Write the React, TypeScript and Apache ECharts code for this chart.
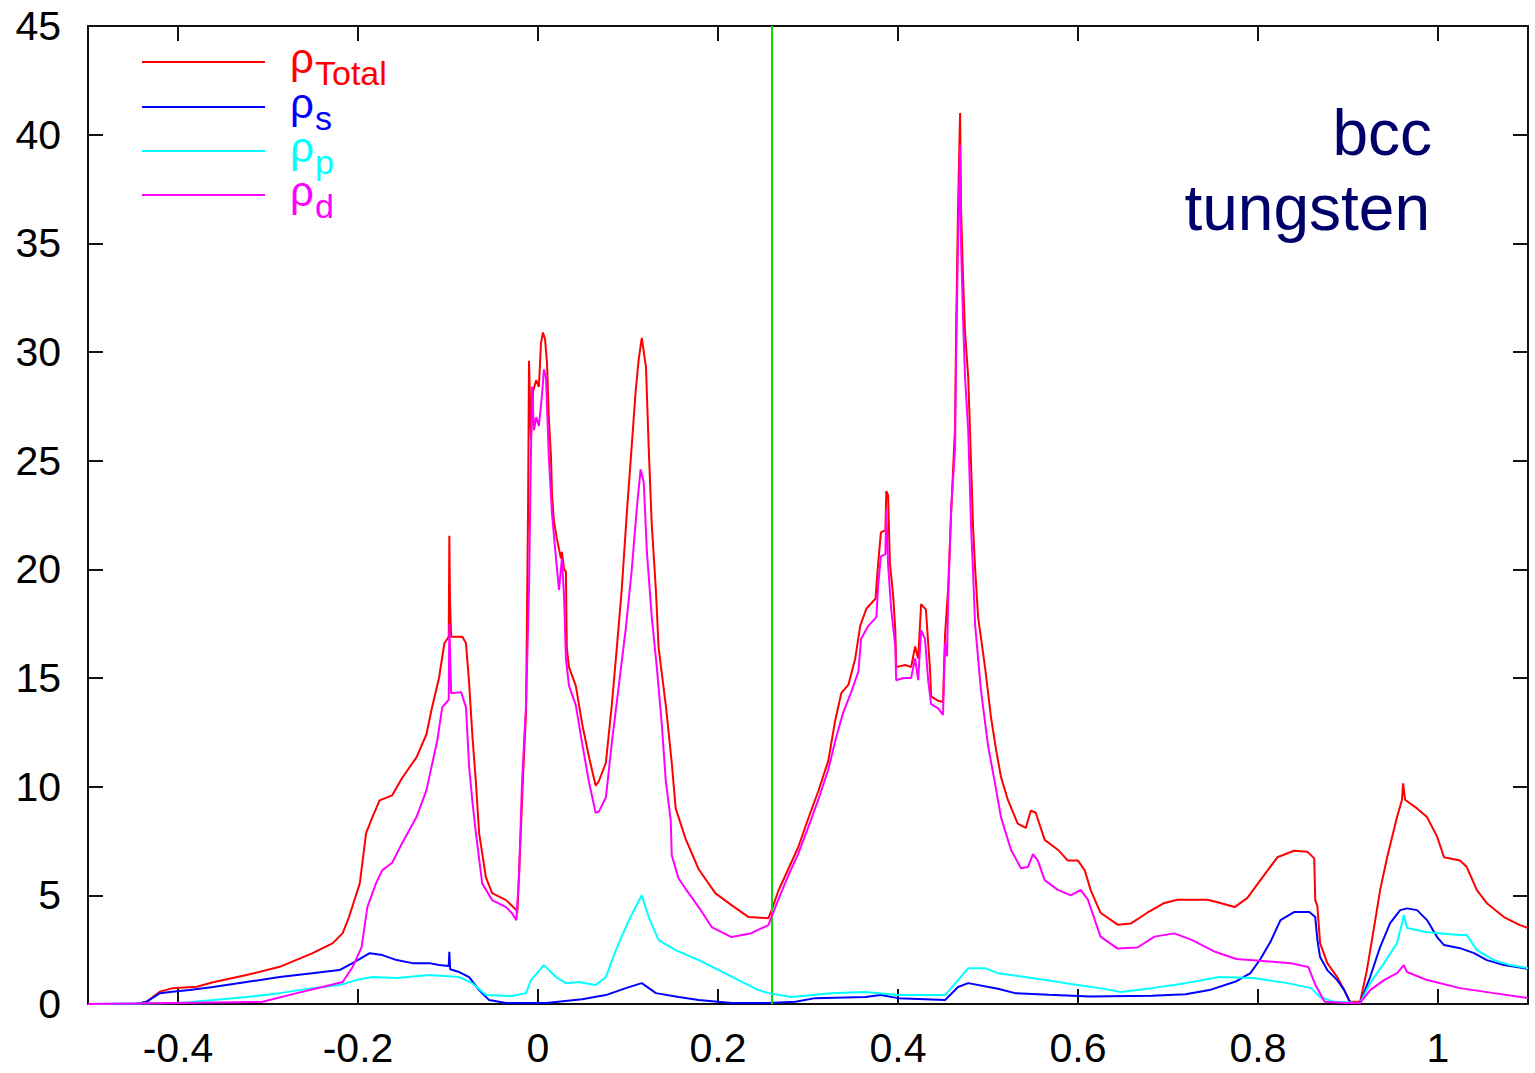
import React, { useEffect, useRef } from "react";
import * as echarts from "echarts";

// ---- axis ticks ----
const xTicks = [-0.4, -0.2, 0, 0.2, 0.4, 0.6, 0.8, 1];
const xTickLabels = ["-0.4", "-0.2", "0", "0.2", "0.4", "0.6", "0.8", "1"];
const yTicks = [0, 5, 10, 15, 20, 25, 30, 35, 40, 45];
const fermiLevel = 0.256;

// ---- series names ----
const seriesNames = ["ρTotal", "ρs", "ρp", "ρd"];
const subscripts = ["Total", "s", "p", "d"];
const seriesColors = ["#ff0000", "#0000ff", "#00ffff", "#ff00ff"];
const annotation = ["bcc", "tungsten"];

// ---- data (energy, density) ----
const rhoTotal: [number, number][] = [
  [-0.5, 0], [-0.446, 0], [-0.435, 0.1], [-0.42, 0.57], [-0.406, 0.73], [-0.379, 0.79],
  [-0.361, 1.0], [-0.324, 1.33], [-0.287, 1.71], [-0.251, 2.33], [-0.228, 2.8], [-0.217, 3.26],
  [-0.21, 4.0], [-0.198, 5.55], [-0.191, 7.86], [-0.184, 8.6], [-0.176, 9.37], [-0.162, 9.6],
  [-0.151, 10.4], [-0.135, 11.35], [-0.124, 12.4], [-0.118, 13.6], [-0.11, 15.0], [-0.104, 16.6],
  [-0.0992, 16.9], [-0.0985, 21.55], [-0.0978, 18.6], [-0.0965, 16.9], [-0.084, 16.9], [-0.08, 16.6],
  [-0.0765, 14.75], [-0.073, 12.4], [-0.069, 10.2], [-0.0654, 7.86], [-0.058, 5.85], [-0.051, 5.1],
  [-0.0355, 4.78], [-0.024, 4.32], [-0.023, 4.18], [-0.021, 6.0], [-0.0166, 10.5], [-0.0133, 13.4],
  [-0.011, 23.0], [-0.01, 29.6], [-0.0078, 26.0], [-0.0055, 28.2], [-0.002, 28.7], [0.001, 28.4],
  [0.0033, 30.4], [0.0055, 30.9], [0.0078, 30.6], [0.01, 29.5], [0.012, 27.0], [0.0144, 25.2],
  [0.0155, 23.5], [0.0177, 22.2], [0.021, 21.4], [0.0255, 20.5], [0.0266, 20.8], [0.029, 20.0],
  [0.031, 19.9], [0.032, 16.4], [0.0344, 15.5], [0.042, 14.65], [0.049, 12.9], [0.0565, 11.4],
  [0.064, 10.05], [0.0676, 10.25], [0.0754, 11.1], [0.082, 13.75], [0.0876, 16.4], [0.093, 19.05],
  [0.0987, 22.6], [0.104, 25.6], [0.1086, 28.25], [0.112, 29.7], [0.1153, 30.65], [0.12, 29.3],
  [0.123, 25.6], [0.1264, 22.05], [0.131, 19.05], [0.134, 16.4], [0.142, 13.75], [0.1486, 11.1],
  [0.153, 9.0], [0.164, 7.6], [0.1785, 6.2], [0.197, 5.1], [0.215, 4.55], [0.234, 4.0],
  [0.256, 3.95], [0.2594, 4.3], [0.267, 5.2], [0.278, 6.2], [0.289, 7.2], [0.3, 8.5],
  [0.3115, 9.8], [0.3226, 11.2], [0.33, 13.0], [0.337, 14.3], [0.345, 14.7], [0.3525, 15.9],
  [0.358, 17.4], [0.365, 18.2], [0.375, 18.65], [0.378, 20.3], [0.381, 21.7], [0.386, 21.8],
  [0.387, 23.6], [0.389, 23.4], [0.391, 20.3], [0.3947, 18.75], [0.397, 17.2], [0.398, 15.5],
  [0.408, 15.6], [0.4146, 15.5], [0.419, 16.45], [0.4224, 15.9], [0.4257, 18.4], [0.431, 18.15],
  [0.4357, 15.3], [0.4368, 14.15], [0.4446, 13.95], [0.45, 13.9], [0.4523, 17.0], [0.4557, 19.1],
  [0.459, 22.55], [0.4634, 26.55], [0.4645, 30.7], [0.4667, 36.65], [0.469, 41.0], [0.47, 36.65],
  [0.4723, 33.4], [0.4745, 30.9], [0.478, 28.85], [0.48, 26.4], [0.4834, 21.95], [0.4856, 20.1],
  [0.489, 17.8], [0.4967, 15.5], [0.5033, 13.2], [0.509, 11.7], [0.5144, 10.45], [0.522, 9.4],
  [0.533, 8.3], [0.542, 8.1], [0.5477, 8.9], [0.553, 8.8], [0.563, 7.55], [0.5776, 7.1],
  [0.5887, 6.6], [0.6, 6.6], [0.6075, 6.15], [0.614, 5.25], [0.625, 4.2], [0.644, 3.65],
  [0.6585, 3.7], [0.677, 4.2], [0.696, 4.65], [0.7106, 4.8], [0.744, 4.8], [0.758, 4.65],
  [0.774, 4.46], [0.788, 4.87], [0.8027, 5.7], [0.8215, 6.75], [0.84, 7.05], [0.855, 7.0],
  [0.8625, 6.7], [0.8636, 4.78], [0.866, 4.5], [0.869, 2.8], [0.877, 1.88], [0.888, 1.24],
  [0.8958, 0.64], [0.9024, 0.1], [0.9135, 0.1], [0.921, 1.56], [0.929, 3.54], [0.9357, 5.24],
  [0.9435, 6.75], [0.9545, 8.6], [0.96, 9.4], [0.9612, 10.15], [0.9634, 9.4], [0.9767, 9.0],
  [0.9878, 8.6], [0.999, 7.7], [1.0067, 6.75], [1.0244, 6.6], [1.032, 6.3], [1.0432, 5.24],
  [1.0543, 4.64], [1.0732, 4.0], [1.091, 3.63], [1.1, 3.5],
];

const rhoS: [number, number][] = [
  [-0.5, 0], [-0.446, 0], [-0.435, 0.1], [-0.42, 0.5], [-0.409, 0.55], [-0.387, 0.64],
  [-0.361, 0.78], [-0.324, 1.01], [-0.287, 1.24], [-0.251, 1.42], [-0.2206, 1.56], [-0.206, 1.88],
  [-0.187, 2.34], [-0.173, 2.25], [-0.157, 2.02], [-0.1397, 1.88], [-0.121, 1.88], [-0.11, 1.79],
  [-0.0992, 1.75], [-0.0985, 2.4], [-0.0976, 1.6], [-0.0876, 1.47], [-0.0765, 1.24], [-0.0654, 0.64],
  [-0.0543, 0.18], [-0.0355, 0.05], [0.009, 0.05], [0.049, 0.22], [0.0754, 0.41], [0.0976, 0.73],
  [0.1153, 0.96], [0.131, 0.5], [0.1563, 0.32], [0.1785, 0.18], [0.215, 0.05], [0.256, 0.05],
  [0.286, 0.1], [0.308, 0.27], [0.3636, 0.32], [0.381, 0.41], [0.4, 0.27], [0.4523, 0.18],
  [0.4667, 0.78], [0.478, 0.96], [0.511, 0.7], [0.53, 0.5], [0.5676, 0.42], [0.613, 0.35],
  [0.682, 0.38], [0.7195, 0.45], [0.746, 0.64], [0.776, 1.05], [0.7916, 1.42], [0.8027, 2.07],
  [0.8137, 2.85], [0.825, 3.86], [0.84, 4.23], [0.857, 4.23], [0.8636, 4.0], [0.866, 2.94],
  [0.869, 2.16], [0.877, 1.56], [0.888, 1.1], [0.8958, 0.64], [0.9024, 0.05], [0.9135, 0.05],
  [0.9246, 1.24], [0.9357, 2.62], [0.9468, 3.72], [0.958, 4.32], [0.9656, 4.4], [0.9767, 4.32],
  [0.9878, 3.86], [0.999, 3.08], [1.0067, 2.71], [1.0244, 2.57], [1.04, 2.34], [1.0543, 2.02],
  [1.0732, 1.79], [1.1, 1.62],
];

const rhoP: [number, number][] = [
  [-0.5, 0], [-0.398, 0.05], [-0.361, 0.18], [-0.324, 0.32], [-0.287, 0.5], [-0.251, 0.73],
  [-0.2206, 0.87], [-0.2018, 1.1], [-0.184, 1.24], [-0.157, 1.2], [-0.121, 1.33], [-0.0876, 1.24],
  [-0.073, 0.96], [-0.0576, 0.41], [-0.0288, 0.37], [-0.0133, 0.5], [-0.0078, 1.1], [0.0066, 1.79],
  [0.02, 1.24], [0.031, 0.96], [0.0455, 1.01], [0.064, 0.87], [0.0754, 1.24], [0.0865, 2.48],
  [0.101, 3.86], [0.1153, 5.0], [0.123, 4.0], [0.134, 2.94], [0.153, 2.48], [0.1785, 2.02],
  [0.2007, 1.56], [0.2228, 1.1], [0.245, 0.64], [0.256, 0.5], [0.2816, 0.32], [0.326, 0.5],
  [0.3636, 0.55], [0.4, 0.41], [0.4523, 0.41], [0.4667, 1.1], [0.478, 1.65], [0.4967, 1.65],
  [0.511, 1.42], [0.549, 1.2], [0.5865, 0.96], [0.624, 0.73], [0.6475, 0.55], [0.682, 0.73],
  [0.7195, 0.96], [0.757, 1.24], [0.795, 1.2], [0.8326, 0.96], [0.859, 0.73], [0.869, 0.32],
  [0.8847, 0.1], [0.9135, 0.05], [0.9246, 0.96], [0.94, 1.88], [0.9545, 2.8], [0.96, 3.72],
  [0.962, 4.1], [0.9656, 3.5], [0.9878, 3.3], [1.0244, 3.17], [1.032, 3.17], [1.0432, 2.48],
  [1.062, 2.02], [1.08, 1.79], [1.1, 1.65],
];

const rhoD: [number, number][] = [
  [-0.5, 0], [-0.306, 0.1], [-0.268, 0.5], [-0.2395, 0.78], [-0.217, 1.01], [-0.206, 1.7],
  [-0.196, 2.62], [-0.1896, 4.46], [-0.18, 5.55], [-0.173, 6.16], [-0.162, 6.5], [-0.151, 7.4],
  [-0.135, 8.6], [-0.124, 9.83], [-0.1175, 11.07], [-0.112, 12.1], [-0.1064, 13.65], [-0.0992, 14.0],
  [-0.0985, 17.5], [-0.0965, 14.3], [-0.0854, 14.35], [-0.08, 13.65], [-0.0765, 10.9], [-0.073, 9.37],
  [-0.069, 7.86], [-0.062, 5.55], [-0.051, 4.78], [-0.0355, 4.46], [-0.029, 4.18], [-0.024, 3.86],
  [-0.021, 6.0], [-0.0177, 10.25], [-0.0133, 13.75], [-0.01, 19.05], [-0.0078, 25.4], [-0.0067, 28.4],
  [-0.0044, 26.4], [-0.002, 27.0], [0.001, 26.6], [0.0044, 28.0], [0.0066, 29.2], [0.0089, 28.8],
  [0.012, 25.2], [0.0155, 22.6], [0.02, 20.5], [0.0233, 19.05], [0.0266, 20.5], [0.029, 18.7],
  [0.031, 15.9], [0.0344, 14.65], [0.042, 13.75], [0.049, 12.0], [0.0565, 10.25], [0.064, 8.8],
  [0.0676, 8.85], [0.0754, 9.5], [0.082, 12.0], [0.0898, 14.65], [0.0976, 17.3], [0.104, 19.9],
  [0.11, 22.9], [0.114, 24.6], [0.1175, 24.0], [0.121, 20.8], [0.1264, 17.8], [0.132, 15.5],
  [0.1375, 12.9], [0.142, 10.25], [0.1475, 8.45], [0.1486, 6.85], [0.156, 5.8], [0.164, 5.3],
  [0.1785, 4.46], [0.193, 3.54], [0.215, 3.08], [0.237, 3.26], [0.256, 3.63], [0.267, 4.8],
  [0.278, 5.9], [0.289, 6.9], [0.3, 8.1], [0.3115, 9.4], [0.3226, 10.8], [0.3315, 12.3],
  [0.339, 13.4], [0.348, 14.35], [0.356, 15.3], [0.359, 16.8], [0.367, 17.4], [0.376, 17.8],
  [0.378, 19.3], [0.381, 20.6], [0.386, 20.7], [0.387, 22.75], [0.389, 20.2], [0.3925, 18.15],
  [0.397, 16.45], [0.398, 14.9], [0.406, 15.0], [0.4146, 15.0], [0.419, 15.9], [0.4224, 14.9],
  [0.4257, 17.2], [0.43, 16.8], [0.4335, 14.9], [0.4368, 13.8], [0.4446, 13.6], [0.45, 13.3],
  [0.4523, 16.6], [0.4545, 16.0], [0.4557, 18.55], [0.459, 22.75], [0.4634, 25.6], [0.4645, 29.6],
  [0.4667, 35.0], [0.469, 39.5], [0.47, 35.0], [0.4723, 31.5], [0.4745, 28.85], [0.478, 26.4],
  [0.4812, 21.95], [0.4834, 19.9], [0.4856, 17.5], [0.492, 14.5], [0.5, 11.9], [0.5078, 10.15],
  [0.5144, 8.6], [0.5255, 7.1], [0.5366, 6.25], [0.5443, 6.3], [0.55, 6.9], [0.5554, 6.6],
  [0.563, 5.7], [0.5776, 5.25], [0.592, 5.0], [0.603, 5.25], [0.611, 4.8], [0.625, 3.1],
  [0.644, 2.55], [0.666, 2.6], [0.685, 3.1], [0.707, 3.25], [0.727, 2.94], [0.753, 2.39],
  [0.776, 2.07], [0.806, 1.98], [0.836, 1.88], [0.856, 1.7], [0.8636, 0.9], [0.874, 0.1],
  [0.898, 0.05], [0.9135, 0.05], [0.9246, 0.64], [0.94, 1.1], [0.9545, 1.42], [0.962, 1.79],
  [0.9656, 1.47], [0.9878, 1.1], [1.0244, 0.73], [1.062, 0.5], [1.1, 0.27],
];

const seriesData = [rhoTotal, rhoS, rhoP, rhoD];

const FONT = '"Liberation Sans", Arial, Helvetica, sans-serif';
const AXIS_COLOR = "#111";

export default function App() {
  const ref = useRef<HTMLDivElement>(null);

  useEffect(() => {
    if (!ref.current) return;
    const chart = echarts.init(ref.current, null, { renderer: "svg" });

    const tickStyle = { color: AXIS_COLOR, width: 2 };
    const xBase = {
      type: "value" as const,
      min: -0.5,
      max: 1.1,
      splitLine: { show: false },
      axisLine: { show: true, onZero: false, lineStyle: tickStyle },
      axisTick: { show: true, inside: true, length: 15, customValues: xTicks, lineStyle: tickStyle },
    };
    const yBase = {
      type: "value" as const,
      min: 0,
      max: 45,
      interval: 5,
      splitLine: { show: false },
      axisLine: { show: true, onZero: false, lineStyle: tickStyle },
      axisTick: { show: true, inside: true, length: 15, lineStyle: tickStyle },
    };

    // legend graphic
    const legendGraphic: any[] = [];
    const legendLineY = [62, 107, 151, 195];
    seriesNames.forEach((name, i) => {
      const ly = legendLineY[i];
      legendGraphic.push({
        type: "line",
        shape: { x1: 142, y1: ly, x2: 265, y2: ly },
        style: { stroke: seriesColors[i], lineWidth: 2 },
        silent: true,
      });
      legendGraphic.push({
        type: "text",
        x: 290,
        y: ly + 11 - 14.5,
        style: {
          text: name.charAt(0),
          font: `42px ${FONT}`,
          fill: seriesColors[i],
          textAlign: "left",
          textVerticalAlign: "middle",
        },
        silent: true,
      });
      legendGraphic.push({
        type: "text",
        x: 315,
        y: ly + 23 - 11.8,
        style: {
          text: subscripts[i],
          font: `34px ${FONT}`,
          fill: seriesColors[i],
          textAlign: "left",
          textVerticalAlign: "middle",
        },
        silent: true,
      });
    });

    const annoGraphic = [
      {
        type: "text",
        x: 1432,
        y: 133,
        style: {
          text: annotation[0],
          font: `64px ${FONT}`,
          fill: "#00006a",
          textAlign: "right",
          textVerticalAlign: "middle",
        },
        silent: true,
      },
      {
        type: "text",
        x: 1430,
        y: 208,
        style: {
          text: annotation[1],
          font: `64px ${FONT}`,
          fill: "#00006a",
          textAlign: "right",
          textVerticalAlign: "middle",
        },
        silent: true,
      },
    ];

    const series: any[] = seriesData.map((data, i) => ({
      name: seriesNames[i],
      type: "line",
      data,
      xAxisIndex: 0,
      yAxisIndex: 0,
      showSymbol: false,
      symbol: "none",
      clip: true,
      lineStyle: { color: seriesColors[i], width: 2 },
      itemStyle: { color: seriesColors[i] },
      z: 3 + i,
      ...(i === 0
        ? {
            markLine: {
              silent: true,
              symbol: "none",
              label: { show: false },
              lineStyle: { color: "#00e000", width: 2, type: "solid" },
              data: [{ xAxis: fermiLevel }],
            },
          }
        : {}),
    }));

    chart.setOption({
      animation: false,
      backgroundColor: "#ffffff",
      grid: { left: 88, top: 26, right: 7, bottom: 69, containLabel: false },
      xAxis: [
        {
          ...xBase,
          position: "bottom",
          axisLabel: {
            show: true,
            customValues: xTicks,
            formatter: (v: number) => {
              const idx = xTicks.indexOf(v);
              return idx >= 0 ? xTickLabels[idx] : String(v);
            },
            fontSize: 41,
            fontFamily: FONT,
            color: "#000",
            margin: 23,
          },
        },
        {
          ...xBase,
          position: "top",
          axisLabel: { show: false },
        },
      ],
      yAxis: [
        {
          ...yBase,
          position: "left",
          axisLabel: {
            show: true,
            formatter: (v: number) => (yTicks.includes(v) ? String(v) : ""),
            fontSize: 41,
            fontFamily: FONT,
            color: "#000",
            margin: 27,
          },
        },
        {
          ...yBase,
          position: "right",
          axisLabel: { show: false },
        },
      ],
      series,
      graphic: [...legendGraphic, ...annoGraphic],
    });

    return () => chart.dispose();
  }, []);

  return (
    <div
      ref={ref}
      style={{ position: "fixed", left: 0, top: 0, width: 1535, height: 1073, background: "#fff" }}
    />
  );
}
